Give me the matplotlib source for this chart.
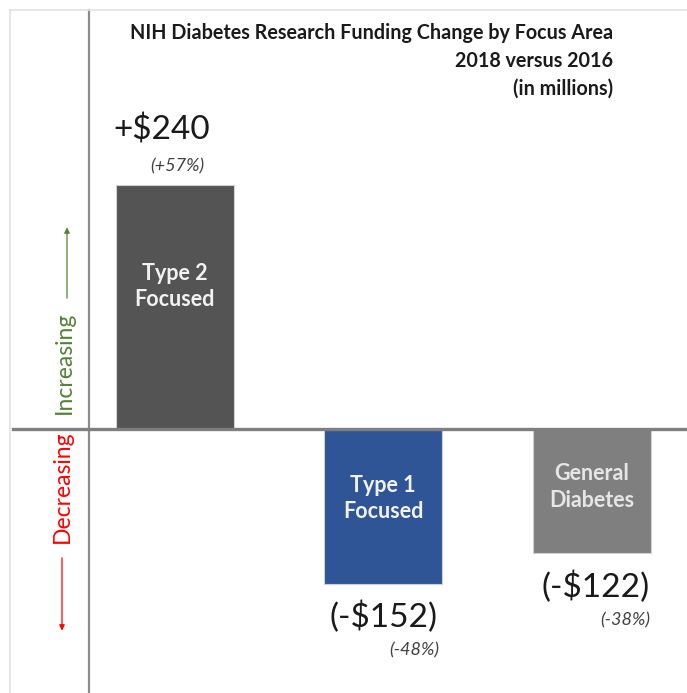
import matplotlib
matplotlib.use("Agg")
import matplotlib.pyplot as plt
from matplotlib.lines import Line2D
import matplotlib.transforms as mtransforms

# data (millions of dollars, 2018 vs 2016)
areas = ["Type 2\nFocused", "Type 1\nFocused", "General\nDiabetes"]
change = [240, -152, -122]
value_labels = ["+$240", "(-$152)", "(-$122)"]
pct_labels = ["(+57%)", "(-48%)", "(-38%)"]

colors = ["#545454", "#2F5597", "#7F7F7F"]
inner_colors = ["#F2F2F2", "#F2F2F2", "#E6E6E6"]

plt.rcParams["font.family"] = ["Lato", "DejaVu Sans"]

W, H = 687, 693
fig = plt.figure(figsize=(W / 100, H / 100), dpi=100)
ax = fig.add_axes([89 / W, 0, 1 - 89 / W, 683 / H])

x = list(range(len(change)))
ax.bar(x, change, width=0.565, color=colors, edgecolor="#D0D0D0", linewidth=0.8, zorder=2)

ax.set_xlim(-0.41, 2.455)
ax.set_ylim(-259.6, 412)
ax.set_xticks([])
ax.set_yticks([])
for s in ["top", "right", "bottom"]:
    ax.spines[s].set_visible(False)
ax.spines["left"].set_color("#8C8C8C")
ax.spines["left"].set_linewidth(1.6)

# zero line, runs past the left axis
blend = mtransforms.blended_transform_factory(fig.transFigure, ax.transData)
fig.add_artist(Line2D([13 / W, 1], [0, 0], transform=blend, color="#7F7F7F", lw=2.4, zorder=5))

# faint outer frame
fig.add_artist(Line2D([10 / W, 10 / W], [0, 1 - 10 / H], color="#E3E3E3", lw=1.2))
fig.add_artist(Line2D([10 / W, 1], [1 - 10 / H, 1 - 10 / H], color="#E3E3E3", lw=1.2))

# labels inside bars
inner_y = [140, -68, -57]
for i, lab in enumerate(areas):
    ax.text(x[i], inner_y[i], lab, ha="center", va="center", color=inner_colors[i],
            fontsize=15.5, fontweight="bold", linespacing=1.3)

# value and percent labels
val_dx = [-0.06, 0, 0.015]
pct_dx = [0.145, 0.27, 0.28]
for i, v in enumerate(change):
    if v > 0:
        vy, py = v + 54, v + 18
    else:
        vy, py = v - 33, v - 66
    ax.text(x[i] + val_dx[i], vy, value_labels[i], ha="center", va="center",
            fontsize=24, color="#1A1A1A")
    ax.text(x[i] + pct_dx[i], py, pct_labels[i], ha="right", va="center",
            fontsize=13, style="italic", color="#404040")

# title
ax.text(613 / W, 1 - 61 / H, "NIH Diabetes Research Funding Change by Focus Area\n2018 versus 2016\n(in millions)",
        transform=fig.transFigure, ha="right", va="center", fontsize=14.2, fontweight="bold",
        color="#1A1A1A", linespacing=1.5)

# direction indicators on the left
fig.text(64 / W, 65, "Increasing", transform=blend, rotation=90, ha="center", va="center",
         fontsize=16.5, color="#548235")
ax.annotate("", xy=(67 / W, 201), xytext=(67 / W, 126), xycoords=blend, textcoords=blend,
            arrowprops=dict(arrowstyle="-|>", color="#548235", lw=0.9, mutation_scale=8))
fig.text(62 / W, -57, "Decreasing", transform=blend, rotation=90, ha="center", va="center",
         fontsize=16.5, color="#FF0000")
ax.annotate("", xy=(62 / W, -201), xytext=(62 / W, -124), xycoords=blend, textcoords=blend,
            arrowprops=dict(arrowstyle="-|>", color="#FF0000", lw=0.9, mutation_scale=8))

fig.savefig("out.png", dpi=100)
